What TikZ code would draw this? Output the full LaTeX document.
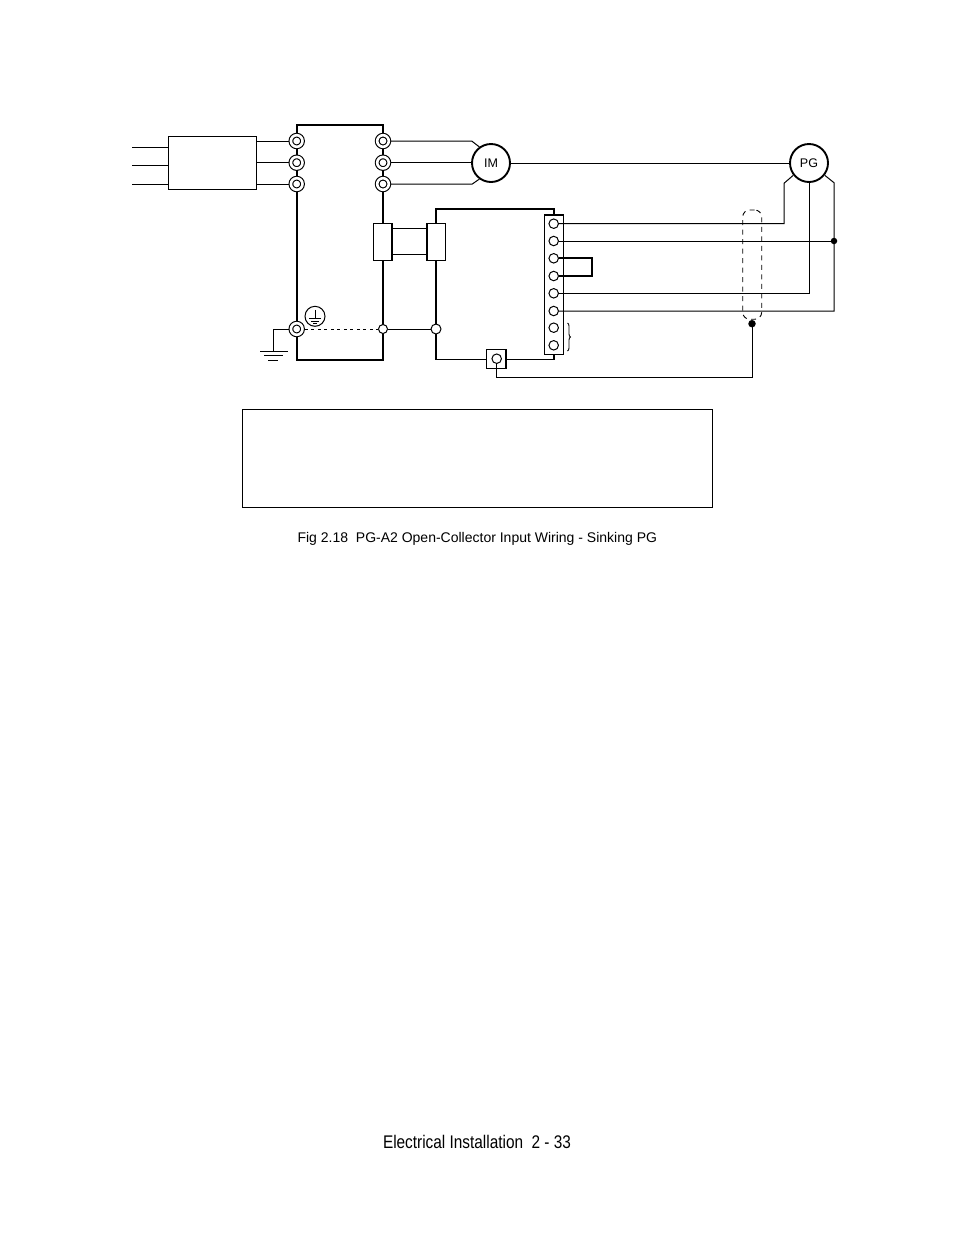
\documentclass[tikz,border=0pt]{standalone}
\usepackage{fontspec}
\setmainfont{Liberation Sans}
\newfontfamily\narrowfont[FakeStretch=0.84]{Liberation Sans}
\usetikzlibrary{decorations.pathreplacing}
\tikzset{
  x=1pt,y=-1pt,
  box/.style={rectangle,draw,line width=1.8pt,inner sep=0,outer sep=0,minimum width=#1},
  thin box/.style={rectangle,draw,line width=1.2pt,fill=white,inner sep=0,outer sep=0,minimum width=#1},
  term/.style={circle,draw,fill=white,inner sep=0,minimum size=11.6pt,double,double distance=2.6pt,line width=1.1pt,outer sep=2.4pt},
  smallterm/.style={circle,draw,fill=white,inner sep=0,minimum size=#1,line width=1pt,outer sep=.5pt},
  dotnode/.style={circle,fill=black,inner sep=0,minimum size=#1,outer sep=0},
  machine/.style={circle,draw,fill=white,inner sep=0,minimum size=38pt,line width=1.9pt,outer sep=.95pt,font=\fontsize{12.5}{13}\selectfont},
  wire/.style={line width=1pt},
  heavy/.style={line width=2.1pt},
}
\begin{document}
\begin{tikzpicture}
\useasboundingbox (0,0) rectangle (954,1235);
% enclosures
\node[box=86.3pt,minimum height=234.7pt] (drive) at (339.85,242.35) {};
\node[box=117.7pt,minimum height=150.7pt] (card) at (494.85,284.2) {};
\node[thin box=88pt,minimum height=53pt] (filter) at (212.3,162.8) {};
\node[thin box=19pt,minimum height=139.3pt] (strip) at (554.2,284.7) {};
\node[thin box=18.3pt,minimum height=36.6pt] (cn1) at (382.85,242) {};
\node[thin box=18.3pt,minimum height=36.6pt] (cn2) at (436.15,242) {};
\node[thin box=19.3pt,minimum height=19pt] (shbox) at (496.4,358.8) {};
\node[draw,line width=.9pt,inner sep=0,minimum width=470pt,minimum height=98pt,outer sep=0] (notebox) at (477.5,458) {};
\node[draw,dash pattern=on 5pt off 4.5pt,line width=.9pt,rounded corners=7pt,inner sep=0,minimum width=19pt,minimum height=109.3pt] (shield) at (752.2,264.6) {};
% terminals
\node[term] (l1) at (296.7,141) {};
\node[term] (l2) at (296.7,162.7) {};
\node[term] (l3) at (296.7,184) {};
\node[term] (r1) at (383,141) {};
\node[term] (r2) at (383,162.7) {};
\node[term] (r3) at (383,184) {};
\node[term] (lg) at (296.7,329) {};
\node[smallterm=9pt] (rg) at (383,329) {};
\node[smallterm=10pt] (cg) at (436,329) {};
\node[smallterm=9.5pt] (s1) at (553.7,223.7) {};
\node[smallterm=9.5pt] (s2) at (553.7,241) {};
\node[smallterm=9.5pt] (s3) at (553.7,258.3) {};
\node[smallterm=9.5pt] (s4) at (553.7,276) {};
\node[smallterm=9.5pt] (s5) at (553.7,293.3) {};
\node[smallterm=9.5pt] (s6) at (553.7,311) {};
\node[smallterm=9.5pt] (s7) at (553.7,327.7) {};
\node[smallterm=9.5pt] (s8) at (553.7,345.3) {};
\node[smallterm=9.5pt] (sc) at (496.7,358.7) {};
% machines
\node[machine] (im) at (491,163) {IM};
\node[machine] (pg) at (809,163) {PG};
% dots and free ends
\node[dotnode=6.5pt] (jn) at (834,241) {};
\node[dotnode=7.5pt] (shdot) at (752,323.7) {};
\coordinate (in1) at (132,147.3);
\coordinate (in2) at (132,165.3);
\coordinate (in3) at (132,184.3);
\coordinate (m1) at (471.7,141);
\coordinate (m3) at (472.3,184);
\coordinate (k1) at (784,183.3);
\coordinate (k3) at (834,182.7);
\coordinate (jp) at (592,267);
\coordinate (low) at (600,377.3);
\coordinate (gnd) at (273.3,351);
% input wiring
\draw[wire] (in1) -- (in1 -| filter.west);
\draw[wire] (in2) -- (in2 -| filter.west);
\draw[wire] (in3) -- (in3 -| filter.west);
\draw[wire] (l1.west -| filter.east) -- (l1.west);
\draw[wire] (l2.west -| filter.east) -- (l2.west);
\draw[wire] (l3.west -| filter.east) -- (l3.west);
% motor wiring
\draw[wire] (r1.east) -- (m1) -- (im.126);
\draw[wire] (r2.east) -- (r2.east -| im.west);
\draw[wire] (r3.east) -- (m3) -- (im.234);
\draw[wire] (im.east) -- (pg.west);
% connector link
\draw[wire] ([yshift=13.3pt]cn1.east) -- ([yshift=13.3pt]cn2.west);
\draw[wire] ([yshift=-12.7pt]cn1.east) -- ([yshift=-12.7pt]cn2.west);
% ground
\draw[line width=.8pt,dash pattern=on 3pt off 3.5pt] (lg.east) -- (rg.west);
\draw[wire] (rg.east) -- (cg.west);
\draw[wire] (lg.west) -| (gnd);
\draw[wire] ([xshift=-13pt]gnd) -- ([xshift=15pt]gnd);
\draw[wire] ([xshift=-9pt,yshift=-4.7pt]gnd) -- ([xshift=10pt,yshift=-4.7pt]gnd);
\draw[wire] ([xshift=-5pt,yshift=-9pt]gnd) -- ([xshift=5pt,yshift=-9pt]gnd);
% earth mark
\node[circle,draw,line width=1pt,inner sep=0,minimum size=20pt] (earth) at (315,316.3) {};
\draw[line width=.9pt] ([yshift=6.5pt]earth.center) -- ([yshift=-3pt]earth.center);
\draw[line width=.9pt] ([xshift=-6pt,yshift=-2.5pt]earth.center) -- ([xshift=6pt,yshift=-2.5pt]earth.center);
\draw[line width=.9pt] ([xshift=-4pt,yshift=-4.7pt]earth.center) -- ([xshift=4pt,yshift=-4.7pt]earth.center);
\draw[line width=.9pt] ([xshift=-2pt,yshift=-6.7pt]earth.center) -- ([xshift=2pt,yshift=-6.7pt]earth.center);
% encoder wiring
\draw[wire] (s1.east) -| (k1) -- (pg.218);
\draw[wire] (s2.east) -- (jn.center);
\draw[wire] (s5.east) -| (pg.south);
\draw[wire] (s6.east) -| (k3) -- (pg.322);
\draw[heavy] (s3.east) -| (jp) |- (s4.east);
\draw[wire] (sc.south) |- (low) -| (shdot.south);
% brace
\draw[line width=.9pt,decorate,decoration={brace,amplitude=3pt}] (567.5,323) -- (567.5,351);
% texts
\node[font=\fontsize{14}{16}\selectfont,inner sep=0,anchor=base] (cap) at (477.3,542) {Fig 2.18\ \ PG-A2 Open-Collector Input Wiring - Sinking PG};
\node[font=\fontsize{18.3}{20}\narrowfont,inner sep=0] (foot) at (477,1142) {Electrical Installation\ \ 2 - 33};
\end{tikzpicture}
\end{document}
